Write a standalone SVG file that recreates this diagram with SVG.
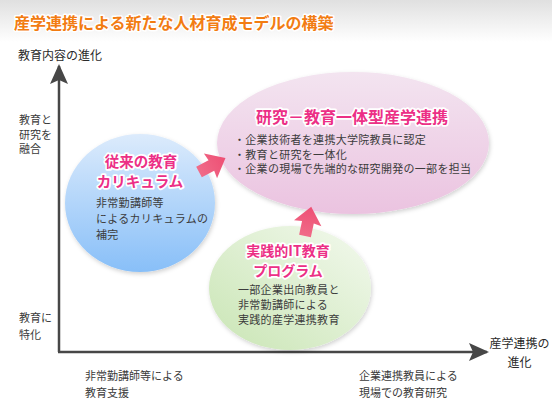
<svg xmlns="http://www.w3.org/2000/svg" width="552" height="412" viewBox="0 0 552 412">
<defs>
<linearGradient id="gTitle" x1="0" y1="0" x2="0" y2="1"><stop offset="0" stop-color="#e0e0e0"/><stop offset="1" stop-color="#ffffff"/></linearGradient>
<linearGradient id="gBlue" x1="0" y1="0" x2="0" y2="1"><stop offset="0" stop-color="#dcebfc"/><stop offset="1" stop-color="#88bff8"/></linearGradient>
<linearGradient id="gPink" x1="0" y1="0" x2="0" y2="1"><stop offset="0" stop-color="#f3e4f0"/><stop offset="1" stop-color="#ebc3e0"/></linearGradient>
<linearGradient id="gGreen" x1="1" y1="0" x2="0" y2="1"><stop offset="0" stop-color="#f3f9ee"/><stop offset="1" stop-color="#c9e5b4"/></linearGradient>
<linearGradient id="gArrow" x1="0" y1="0" x2="1" y2="0"><stop offset="0" stop-color="#f06b88"/><stop offset="1" stop-color="#ee4f74"/></linearGradient>
<filter id="shadow" x="-10%" y="-10%" width="125%" height="125%"><feDropShadow dx="1" dy="2" stdDeviation="2" flood-color="#000" flood-opacity="0.18"/></filter>
<marker id="ah" viewBox="0 0 20 20" refX="18" refY="10" markerWidth="20" markerHeight="20" markerUnits="userSpaceOnUse" orient="auto"><path d="M0,1 L20,10 L0,19 L4,10 Z" fill="#474747"/></marker>
</defs>
<style>
text{font-family:"Noto Sans CJK JP","Noto Sans",sans-serif;}
.title{font-size:16px;font-weight:bold;fill:#f27c12;stroke:#ffffff;stroke-width:3;paint-order:stroke;stroke-linejoin:round;}
.lab{font-size:11px;fill:#3a3a3a;}
.axt{font-size:12px;fill:#2a2a2a;}
.head{font-weight:bold;fill:#ec2f86;stroke:#ffffff;stroke-width:3.5;paint-order:stroke;stroke-linejoin:round;}
.body{font-size:11px;fill:#3c3c3c;letter-spacing:0.3px;}
.axis{stroke:#474747;stroke-width:2.5;fill:none;}
.arrow{fill:url(#gArrow);}
</style>
<rect x="0" y="0" width="552" height="412" fill="#ffffff"/>
<rect x="0" y="0" width="552" height="42" fill="url(#gTitle)"/>
<text class="title" x="14" y="29">産学連携による新たな人材育成モデルの構築</text>

<g id="axes">
<line class="axis" x1="59" y1="352" x2="59" y2="66" marker-end="url(#ah)"/>
<line class="axis" x1="58" y1="352" x2="487" y2="352" marker-end="url(#ah)"/>
<text class="axt" x="18" y="59.5">教育内容の進化</text>
<text class="lab" x="19" y="124">教育と</text>
<text class="lab" x="19" y="138.5">研究を</text>
<text class="lab" x="19" y="153">融合</text>
<text class="lab" x="19" y="322">教育に</text>
<text class="lab" x="19" y="339">特化</text>
<text class="lab" x="85" y="380">非常勤講師等による</text>
<text class="lab" x="85" y="397">教育支援</text>
<text class="lab" x="359" y="380">企業連携教員による</text>
<text class="lab" x="359" y="397">現場での教育研究</text>
<text class="axt" x="519.5" y="347.5" text-anchor="middle">産学連携の</text>
<text class="axt" x="519.5" y="367" text-anchor="middle">進化</text>
</g>

<g id="node-integrated">
<ellipse cx="353" cy="143" rx="136" ry="71" fill="url(#gPink)" filter="url(#shadow)"/>
<text class="head" x="352" y="123" font-size="16" text-anchor="middle">研究－教育一体型産学連携</text>
<text class="body" x="234" y="144">・企業技術者を連携大学院教員に認定</text>
<text class="body" x="234" y="158.5">・教育と研究を一体化</text>
<text class="body" x="234" y="173">・企業の現場で先端的な研究開発の一部を担当</text>
</g>

<g id="node-conventional">
<ellipse cx="140" cy="203" rx="75" ry="69" fill="url(#gBlue)" filter="url(#shadow)"/>
<text class="head" x="141" y="166.5" font-size="14.5" text-anchor="middle">従来の教育</text>
<text class="head" x="140" y="186.5" font-size="14.5" text-anchor="middle">カリキュラム</text>
<text class="body" x="96" y="207">非常勤講師等</text>
<text class="body" x="96" y="223">によるカリキュラムの</text>
<text class="body" x="96" y="239">補完</text>
</g>

<g id="node-practical">
<ellipse cx="290" cy="288" rx="81" ry="62" fill="url(#gGreen)" filter="url(#shadow)"/>
<text class="head" x="288" y="256" font-size="14" text-anchor="middle">実践的IT教育</text>
<text class="head" x="288" y="276" font-size="14" text-anchor="middle">プログラム</text>
<text class="body" x="238" y="293.5">一部企業出向教員と</text>
<text class="body" x="238" y="309">非常勤講師による</text>
<text class="body" x="238" y="323.5">実践的産学連携教育</text>
</g>

<g id="connectors">
<path class="arrow" transform="translate(199,172) rotate(-28)" d="M0,-6 L14,-6 L13,-14 L30,0 L13,14 L14,6 L0,6 Z"/>
<path class="arrow" transform="translate(305,236) rotate(-78)" d="M0,-6 L14,-6 L13,-14 L30,0 L13,14 L14,6 L0,6 Z"/>
</g>
</svg>
